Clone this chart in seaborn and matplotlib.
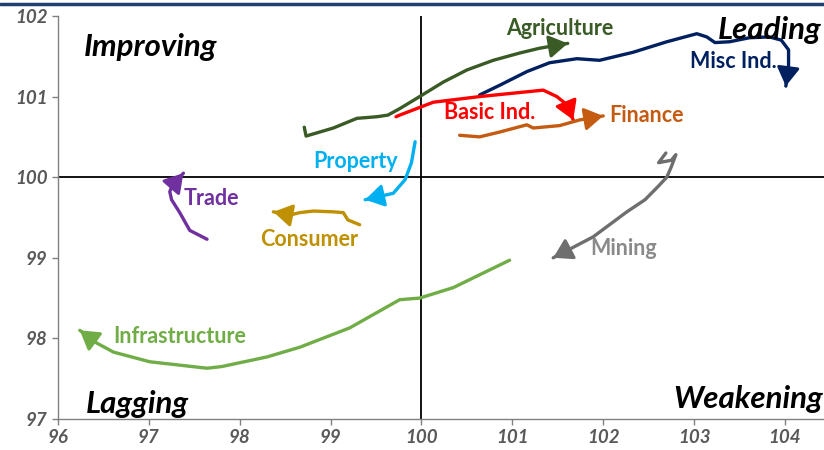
import numpy as np
import pandas as pd
import seaborn as sns
import matplotlib.pyplot as plt
from matplotlib.lines import Line2D

sns.set_theme(style='white')
plt.rcParams['font.family'] = ['Lato', 'DejaVu Sans']

# sector trails (relative strength, momentum), last point = arrow tip
agri_x = [98.71, 98.73, 98.85, 99.03, 99.29, 99.51, 99.63, 99.76, 99.98, 100.24, 100.50, 100.79, 101.08, 101.30, 101.61]
agri_y = [100.62, 100.51, 100.55, 100.61, 100.73, 100.75, 100.77, 100.85, 101.00, 101.18, 101.33, 101.45, 101.54, 101.60, 101.66]
misc_x = [100.64, 100.86, 101.16, 101.41, 101.71, 101.96, 102.33, 102.70, 103.03, 103.14, 103.23, 103.39, 103.61, 103.83, 103.96, 104.04, 104.04, 104.01]
misc_y = [101.02, 101.14, 101.31, 101.42, 101.47, 101.45, 101.55, 101.68, 101.78, 101.74, 101.67, 101.68, 101.73, 101.74, 101.70, 101.58, 101.39, 101.13]
basic_x = [99.72, 99.76, 100.13, 100.64, 101.34, 101.49, 101.60, 101.67]
basic_y = [100.75, 100.77, 100.93, 101.00, 101.08, 101.00, 100.90, 100.71]
fin_x = [100.42, 100.64, 100.86, 101.16, 101.23, 101.52, 101.74, 102.00]
fin_y = [100.52, 100.50, 100.56, 100.65, 100.61, 100.64, 100.71, 100.76]
prop_x = [99.93, 99.89, 99.82, 99.69, 99.38]
prop_y = [100.44, 100.18, 99.97, 99.80, 99.72]
cons_x = [99.32, 99.19, 99.14, 99.03, 98.81, 98.66, 98.55, 98.37]
cons_y = [99.41, 99.47, 99.56, 99.57, 99.58, 99.56, 99.53, 99.57]
trade_x = [97.64, 97.45, 97.34, 97.25, 97.23, 97.25, 97.38]
trade_y = [99.23, 99.34, 99.56, 99.72, 99.82, 99.88, 100.05]
mining_x = [102.69, 102.61, 102.75, 102.80, 102.75, 102.70, 102.60, 102.46, 102.26, 101.89, 101.45]
mining_y = [100.30, 100.18, 100.21, 100.28, 100.13, 100.00, 99.88, 99.72, 99.57, 99.26, 99.00]
infra_x = [100.97, 100.35, 99.98, 99.76, 99.21, 98.66, 98.30, 97.80, 97.64, 97.01, 96.61, 96.43, 96.24]
infra_y = [98.97, 98.63, 98.50, 98.48, 98.13, 97.89, 97.77, 97.65, 97.63, 97.71, 97.83, 97.94, 98.10]

sectors = ['Agriculture', 'Misc Ind.', 'Basic Ind.', 'Finance', 'Property',
           'Consumer', 'Trade', 'Mining', 'Infrastructure']
trails = [(agri_x, agri_y), (misc_x, misc_y), (basic_x, basic_y), (fin_x, fin_y),
          (prop_x, prop_y), (cons_x, cons_y), (trade_x, trade_y),
          (mining_x, mining_y), (infra_x, infra_y)]
colors = ['#3a5a26', '#002060', '#ff0000', '#c55a11', '#00b0f0',
          '#bf9000', '#7030a0', '#6e6e6e', '#70ad47']
label_pos = [(101.52, 101.85), (103.43, 101.43), (100.75, 100.80), (102.48, 100.77),
             (99.27, 100.19), (98.76, 99.23), (97.69, 99.74), (102.22, 99.11),
             (97.34, 98.02)]
label_colors = ['#3a5a26', '#002060', '#ff0000', '#c55a11', '#00b0f0',
                '#bf9000', '#7030a0', '#8a8a8a', '#70ad47']

df = pd.concat([pd.DataFrame({'sector': s, 'rs': t[0], 'mom': t[1], 'step': range(len(t[0]))})
                for s, t in zip(sectors, trails)])

fig = plt.figure(figsize=(8.24, 4.5), dpi=100)
ax = fig.add_axes([0.0704, 0.0689, 0.9296, 0.8956])
ax.set_xlim(96, 104.43)
ax.set_ylim(97, 102)

sns.lineplot(data=df, x='rs', y='mom', hue='sector', units='sector', estimator=None,
             sort=False, palette=dict(zip(sectors, colors)), linewidth=2.4,
             legend=False, ax=ax)
ax.set_xlim(96, 104.43)
ax.set_ylim(97, 102)

# arrow heads: point along the last segment, tail length fixed in pixels
to_disp = ax.transData
to_data = ax.transData.inverted()
for (xs, ys), c in zip(trails, colors):
    tip = to_disp.transform((xs[-1], ys[-1]))
    prev = to_disp.transform((xs[-2], ys[-2]))
    d = (tip - prev) / np.hypot(*(tip - prev))
    tail = to_data.transform(tip - d * 16)
    ax.annotate('', xy=(xs[-1], ys[-1]), xytext=tail,
                arrowprops=dict(arrowstyle='-|>,head_length=0.9,head_width=0.55',
                                color=c, lw=2.2, shrinkA=0, shrinkB=0,
                                mutation_scale=12.5))

for s, (lx, ly), c in zip(sectors, label_pos, label_colors):
    ax.text(lx, ly, s, color=c, fontsize=15.5, fontweight='bold', ha='center', va='center')

ax.axhline(100, color='black', lw=1.3, zorder=0)
ax.axvline(100, color='black', lw=1.3, zorder=0)

quad = dict(fontsize=22.5, fontweight='bold', fontstyle='italic', color='black', va='center')
ax.text(97.02, 101.62, 'Improving', ha='center', **quad)
ax.text(104.4, 101.83, 'Leading', ha='right', **quad)
ax.text(96.87, 97.19, 'Lagging', ha='center', **quad)
ax.text(104.42, 97.25, 'Weakening', ha='right', **quad)

ax.set_xticks(range(96, 105))
ax.set_yticks(range(97, 103))
ax.set_xlabel('')
ax.set_ylabel('')
sns.despine(ax=ax)
for sp in ['left', 'bottom']:
    ax.spines[sp].set_color('#808080')
    ax.spines[sp].set_linewidth(1)
ax.tick_params(axis='both', direction='out', length=4, width=1, color='#808080',
               labelcolor='#595959', labelsize=13.5, bottom=True, left=True)
for lab in ax.get_xticklabels() + ax.get_yticklabels():
    lab.set_fontweight('bold')
    lab.set_fontstyle('italic')

fig.add_artist(Line2D([0, 1], [0.991, 0.991], transform=fig.transFigure,
                      color='#1f3f6e', lw=2.5))

fig.savefig('out.png', dpi=100)
